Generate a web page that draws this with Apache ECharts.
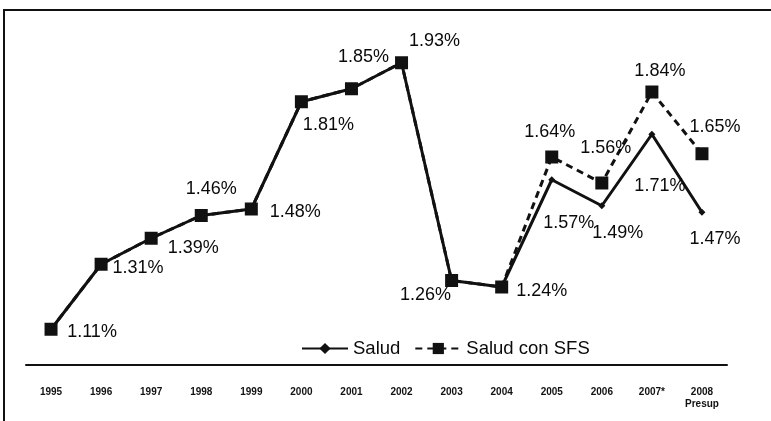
<!DOCTYPE html>
<html><head><meta charset="utf-8">
<script src="https://cdn.jsdelivr.net/npm/echarts@6/dist/echarts.min.js"></script>
<style>html,body{margin:0;padding:0;background:#fff}#c{width:771px;height:421px}</style>
</head><body><div id="c"></div>
<script>
var categories = ['1995','1996','1997','1998','1999','2000','2001','2002','2003','2004','2005','2006','2007*','2008\nPresup'];
var salud = [1.11,1.31,1.39,1.46,1.48,1.81,1.85,1.93,1.26,1.24,1.57,1.49,1.71,1.47];
var saludSFS = [1.11,1.31,1.39,1.46,1.48,1.81,1.85,1.93,1.26,1.24,1.64,1.56,1.84,1.65];

// label offsets (layout only)
var sfsOff = [[41,3],[37,4],[42,10],[10,-26],[44,3],[27,23],[12,-32],[33,-22],[-26,15],[40,4],[-2,-25],[4,-35],[8,-21],[13,-27]];
var saludOff = [null,null,null,null,null,null,null,null,null,null,[17,43],[16,27],[8,52],[13,27]];

var FONT = "'Liberation Sans',Arial,sans-serif";
function lbl(off){
  return {show:true, position:'inside', align:'center', verticalAlign:'middle', offset:off,
    formatter:function(p){return p.value.toFixed(2)+'%';},
    color:'#0a0a0a', fontSize:18, fontFamily:FONT};
}
var saludData = salud.map(function(v,i){
  return {value:v, label: saludOff[i] ? lbl(saludOff[i]) : {show:false}};
});
var sfsData = saludSFS.map(function(v,i){
  return {value:v, label: lbl(sfsOff[i])};
});

var chart = echarts.init(document.getElementById('c'));
chart.setOption({
  backgroundColor:'#fff',
  animation:false,
  grid:{left:26, right:44, top:40, bottom:56},
  legend:{
    data:['Salud','Salud con SFS'], top:334, left:296, itemWidth:46, itemHeight:14, itemGap:14,
    textStyle:{color:'#0a0a0a', fontSize:18.5, fontFamily:FONT}
  },
  xAxis:{type:'category', data:categories, boundaryGap:true,
    axisLine:{lineStyle:{color:'#111', width:2}}, axisTick:{show:false},
    axisLabel:{color:'#111', fontSize:10, fontWeight:'bold', fontFamily:FONT, margin:21, lineHeight:12, interval:0}
  },
  yAxis:{type:'value', min:1, max:2, show:false, splitLine:{show:false}},
  graphic:[{type:'polyline', shape:{points:[[4,421],[4,10],[771,10]]}, style:{stroke:'#111', lineWidth:2, fill:null}}],
  series:[
    {name:'Salud', type:'line', data:saludData, symbol:'diamond', symbolSize:7,
      itemStyle:{color:'#111'}, lineStyle:{color:'#111', width:3}, z:2},
    {name:'Salud con SFS', type:'line', data:sfsData, symbol:'rect', symbolSize:13,
      itemStyle:{color:'#111'}, lineStyle:{color:'#111', width:3, type:[7,5]}, z:3}
  ]
});
</script></body></html>
